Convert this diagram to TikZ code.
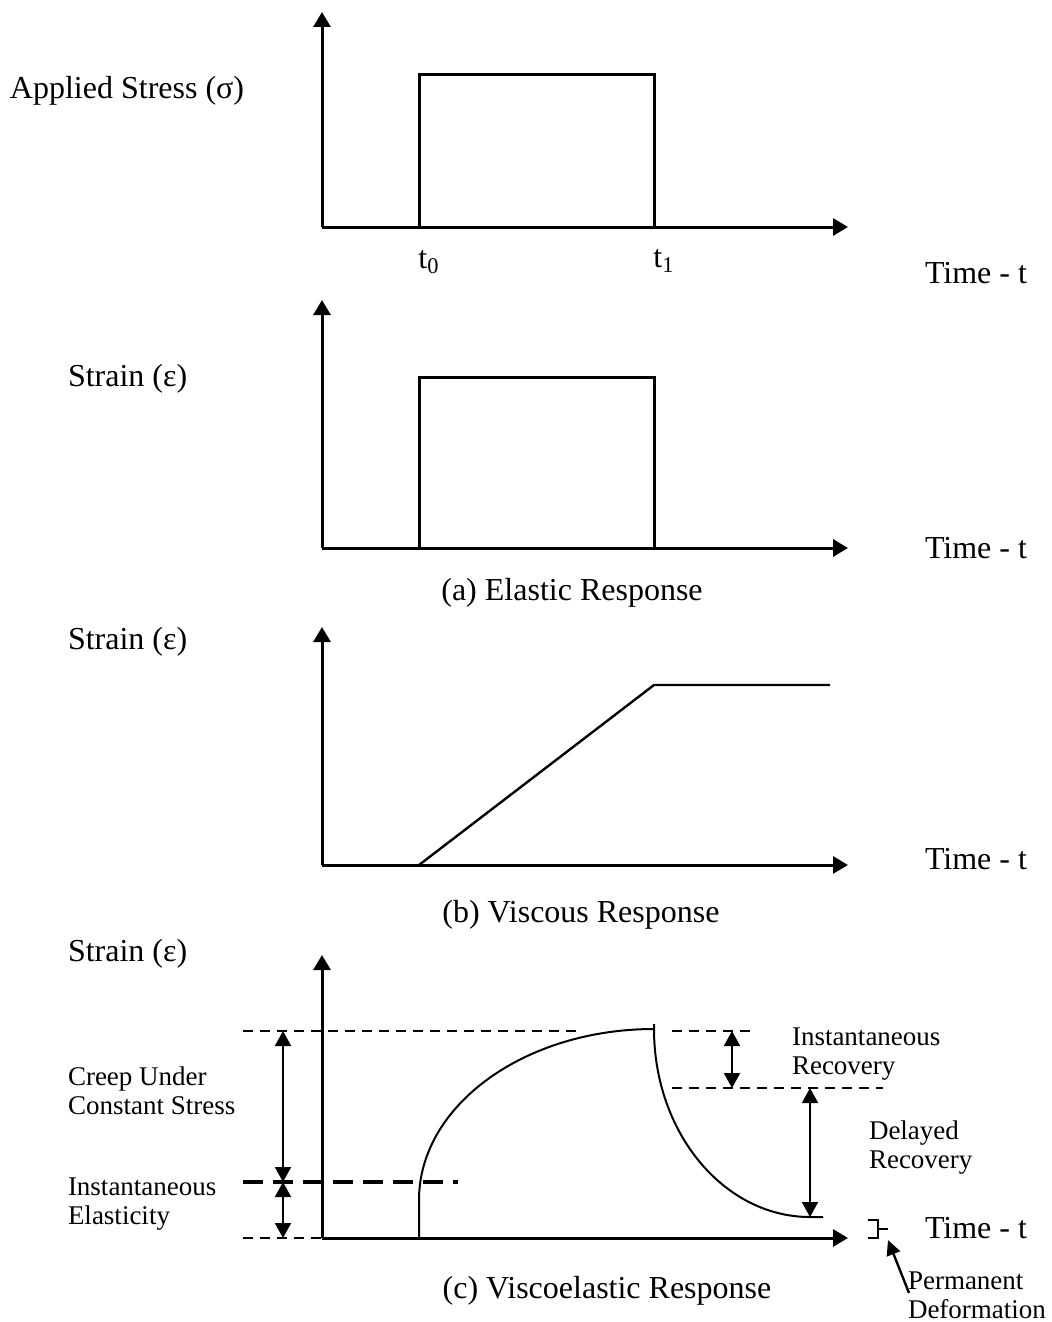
\documentclass[tikz,border=0pt]{standalone}
\usepackage{fontspec}
\setmainfont{Liberation Serif}
\usetikzlibrary{arrows.meta}

\begin{document}
\begin{tikzpicture}[x=0.5pt,y=-0.5pt,inner sep=0pt,outer sep=0pt,line width=1.5pt,
axis/.style={-{Triangle[length=7.5pt,width=8.5pt]},line width=1.5pt},
dimline/.style={{Triangle[length=7.5pt,width=8pt]}-{Triangle[length=7.5pt,width=8pt]},line width=1pt},
guide/.style={line width=1.4pt,dash pattern=on 5pt off 3.5pt},
guidethick/.style={line width=2.2pt,dash pattern=on 10pt off 5pt},
lab/.style={anchor=west,font=\fontsize{16}{19}\selectfont},
captext/.style={font=\fontsize{16}{19}\selectfont},
note/.style={anchor=west,align=left,font=\fontsize{13.5}{14.5}\selectfont}]

\useasboundingbox (0,0) rectangle (1051,1322);

% applied stress
\coordinate (o1) at (322,227);
\draw[axis] (o1) -- (322,12);
\draw[axis] (o1) -- (848,227);
\draw (419,227) -- (419,75) -- (654,75) -- (654,227);
\draw (10,91) node[lab] (stress) {Applied Stress (σ)};
\draw (429,262) node[captext] (t0) {t\textsubscript{0}};
\draw (664,261) node[captext] (t1) {t\textsubscript{1}};
\draw (925,273) node[lab] (time1) {Time - t};

% (a) elastic
\coordinate (o2) at (322,548);
\draw[axis] (o2) -- (322,300);
\draw[axis] (o2) -- (848,548);
\draw (419,548) -- (419,377) -- (654,377) -- (654,548);
\draw (68,379) node[lab] (strain2) {Strain (ε)};
\draw (925,548) node[lab] (time2) {Time - t};
\draw (572,593) node[captext] (capa) {(a) Elastic Response};

% (b) viscous
\coordinate (o3) at (322,865);
\draw[axis] (o3) -- (322,627);
\draw[axis] (o3) -- (848,865);
\draw[line width=1.2pt] (419,865) -- (654,685) -- (830,685);
\draw (68,642) node[lab] (strain3) {Strain (ε)};
\draw (925,859) node[lab] (time3) {Time - t};
\draw (581,915) node[captext] (capb) {(b) Viscous Response};

% (c) viscoelastic
\coordinate (o4) at (322,1238);
\draw[axis] (o4) -- (322,955);
\draw[axis] (o4) -- (848,1238);
\draw (68,954) node[lab] (strain4) {Strain (ε)};
\draw (925,1228) node[lab] (time4) {Time - t};
\draw (607,1291) node[captext] (capc) {(c) Viscoelastic Response};

\draw[guide] (243,1031) -- (580,1031);
\draw[guidethick] (243,1182) -- (458,1182);
\draw[guide] (243,1238) -- (322,1238);
\draw[guide] (672,1031) -- (752,1031);
\draw[guide] (672,1088) -- (883,1088);

\draw[line width=1pt] (419,1238) -- (419,1200)
  .. controls (419,1105.6) and (524.3,1029) .. (654,1029);
\draw[line width=1pt] (654,1024) -- (654,1029)
  .. controls (654,1132.8) and (723.9,1217) .. (810,1217) -- (823,1217);

\coordinate (c1) at (283,1031);
\coordinate (c2) at (283,1182);
\coordinate (c3) at (283,1238);
\draw[dimline] (c1) -- (c2);
\draw[dimline] (c2) -- (c3);
\coordinate (r1) at (732,1031);
\coordinate (r2) at (732,1088);
\draw[dimline] (r1) -- (r2);
\coordinate (d1) at (810,1088);
\coordinate (d2) at (810,1217);
\draw[dimline] (d1) -- (d2);

\draw (68,1091) node[note] (creep) {Creep Under\\Constant Stress};
\draw (68,1204) node[note] (inst) {Instantaneous\\Elasticity};
\draw (792,1054) node[note] (instrec) {Instantaneous\\Recovery};
\draw (869,1148) node[note] (delrec) {Delayed\\Recovery};
\draw (908,1295) node[note] (perm) {Permanent\\Deformation};

\draw[line width=1pt] (868,1220) -- (878,1220) -- (878,1238) -- (868,1238)
  (878,1229) -- (888,1229);
\coordinate (pd) at (888,1240);
\coordinate (pt) at (909,1293);
\draw[line width=1.2pt,-{Triangle[length=7.5pt,width=7pt]}] (pt) -- (pd);
\end{tikzpicture}
\end{document}
